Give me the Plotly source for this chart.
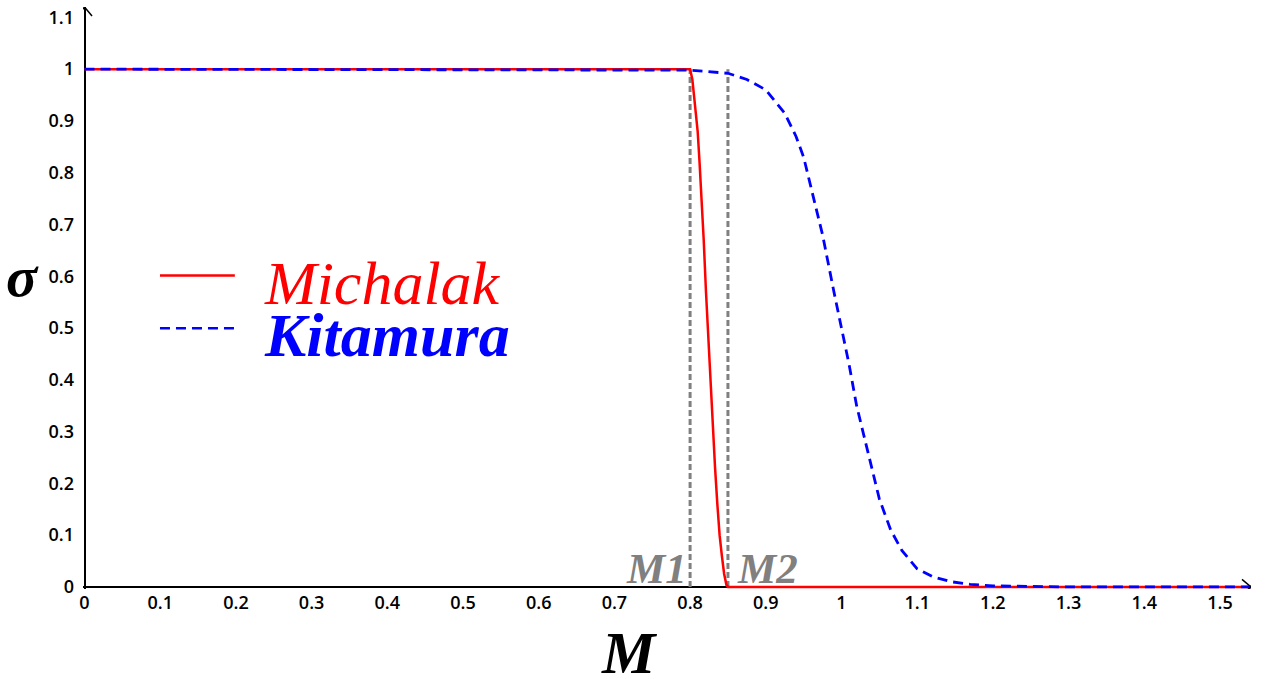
import plotly.graph_objects as go

# ---- data ----
michalak_M = [0.0, 0.80, 0.803, 0.806, 0.810, 0.8125, 0.815, 0.818, 0.821, 0.824,
              0.827, 0.830, 0.833, 0.836, 0.839, 0.842, 0.845, 0.848, 0.85, 1.55]
michalak_sigma = [1.0, 1.0, 0.98, 0.94, 0.88, 0.82, 0.76, 0.67, 0.57, 0.48,
                  0.39, 0.31, 0.23, 0.16, 0.10, 0.06, 0.025, 0.004, 0.0, 0.0]

kitamura_M = [0.0, 0.70, 0.80, 0.85, 0.875, 0.90, 0.925, 0.94, 0.95, 0.96, 0.975,
              0.99, 1.0, 1.01, 1.02, 1.035, 1.05, 1.065, 1.08, 1.10, 1.12,
              1.145, 1.17, 1.20, 1.25, 1.30, 1.55]
kitamura_sigma = [1.0, 0.999, 0.998, 0.992, 0.98, 0.96, 0.915, 0.87, 0.83, 0.77, 0.68,
                  0.57, 0.50, 0.43, 0.35, 0.26, 0.17, 0.11, 0.07, 0.035, 0.02,
                  0.01, 0.005, 0.002, 0.0005, 0.0, 0.0]

M1 = 0.80
M2 = 0.85
x_ticks = [0, 0.1, 0.2, 0.3, 0.4, 0.5, 0.6, 0.7, 0.8, 0.9, 1, 1.1, 1.2, 1.3, 1.4, 1.5]
y_ticks = [0, 0.1, 0.2, 0.3, 0.4, 0.5, 0.6, 0.7, 0.8, 0.9, 1, 1.1]
series_names = ["Michalak", "Kitamura"]
series_colors = ["#ff0000", "#0000ff"]

SERIF = "Liberation Serif"
GRAY = "#808080"
X_MAX = 1.541
Y_MAX = 1.12

fig = go.Figure()

# marker lines M1, M2
for m in (M1, M2):
    fig.add_trace(go.Scatter(x=[m, m], y=[0, 1], mode="lines", showlegend=False,
                             line=dict(color=GRAY, width=3, dash="6px,3px"),
                             hoverinfo="skip"))

fig.add_trace(go.Scatter(x=michalak_M, y=michalak_sigma, mode="lines",
                         name=series_names[0], showlegend=False,
                         line=dict(color=series_colors[0], width=2.5)))
fig.add_trace(go.Scatter(x=kitamura_M, y=kitamura_sigma, mode="lines",
                         name=series_names[1], showlegend=False,
                         line=dict(color=series_colors[1], width=2.8, dash="10px,6px")))

tick_font = dict(family="Open Sans", size=18, color="black", weight=600)

fig.update_layout(
    width=1269, height=679,
    margin=dict(l=83, r=18, t=5, b=90),
    paper_bgcolor="white", plot_bgcolor="white",
    xaxis=dict(range=[-0.002, X_MAX], tickvals=x_ticks,
               ticktext=[f"{v:g}" for v in x_ticks],
               showgrid=False, zeroline=True, zerolinecolor="black", zerolinewidth=1.5,
               showline=False, ticks="", tickfont=tick_font, ticklabelstandoff=1),
    yaxis=dict(range=[-0.004, Y_MAX], tickvals=y_ticks,
               ticktext=[f"{v:g}" for v in y_ticks],
               showgrid=False, zeroline=True, zerolinecolor="black", zerolinewidth=1.5,
               showline=False, ticks="", tickfont=tick_font, ticklabelstandoff=8),
    showlegend=False,
)

# axis arrows (open chevrons) at the axis ends
fig.add_shape(type="path", xref="x", yref="y", xsizemode="pixel", ysizemode="pixel",
              xanchor=X_MAX, yanchor=0, path="M -9 -7.5 L 0 0 L -9 7.5",
              line=dict(color="black", width=1.5))
fig.add_shape(type="path", xref="x", yref="y", xsizemode="pixel", ysizemode="pixel",
              xanchor=0, yanchor=Y_MAX, path="M -7.5 -9 L 0 0 L 7.5 -9",
              line=dict(color="black", width=1.5))

# legend (key lines + labels)
legend_rows = [(0.5385, 0.5265, "solid", False), (0.448, 0.436, "10px,6px", True)]
for name, color, (ly, ty, dash, bold) in zip(series_names, series_colors, legend_rows):
    fig.add_shape(type="line", xref="paper", yref="paper", x0=0.0659, x1=0.130,
                  y0=ly, y1=ly, line=dict(color=color, width=2.5, dash=dash))
    fig.add_annotation(x=0.153, y=ty, xref="paper", yref="paper",
                       text=f"<i>{name}</i>", showarrow=False,
                       xanchor="left", yanchor="middle",
                       font=dict(family=SERIF, size=62, color=color,
                                 weight="bold" if bold else "normal"))

# M1 / M2 labels
fig.add_annotation(x=M1, y=0, xref="x", yref="y", text="<b><i>M1</i></b>",
                   showarrow=False, xanchor="right", yanchor="bottom", xshift=-1, yshift=-7,
                   font=dict(family=SERIF, size=43, color=GRAY))
fig.add_annotation(x=M2, y=0, xref="x", yref="y", text="<b><i>M2</i></b>",
                   showarrow=False, xanchor="left", yanchor="bottom", xshift=7, yshift=-7,
                   font=dict(family=SERIF, size=43, color=GRAY))

# axis titles
fig.add_annotation(x=0.72, y=-0.11, xref="x", yref="paper", text="<b><i>M</i></b>",
                   showarrow=False, xanchor="center", yanchor="middle",
                   font=dict(family=SERIF, size=60, color="black"))
fig.add_annotation(x=-0.052, y=0.6, xref="paper", yref="y", text="<b><i>σ</i></b>",
                   showarrow=False, xanchor="center", yanchor="middle",
                   font=dict(family=SERIF, size=58, color="black"))

fig.write_html("out.html", config={"displayModeBar": False},
               post_script="document.body.style.margin='0';")
